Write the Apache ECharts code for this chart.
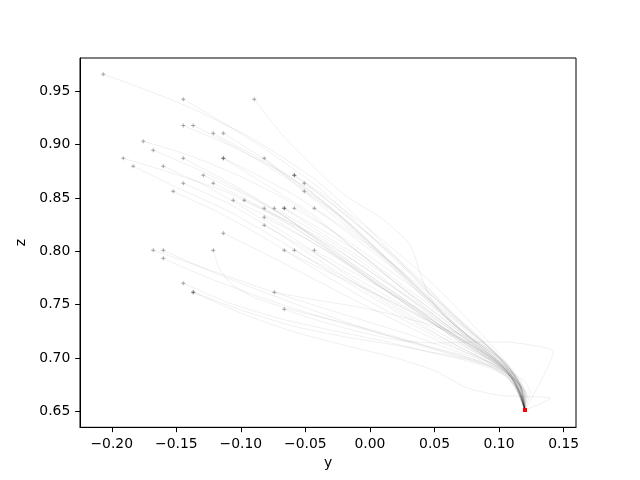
<!DOCTYPE html>
<html>
<head>
<meta charset="utf-8">
<script src="https://cdn.jsdelivr.net/npm/echarts@6/dist/echarts.min.js"></script>
<style>html,body{margin:0;padding:0;background:#fff}#c{width:640px;height:480px}</style>
</head>
<body>
<div id="c"></div>
<script>
// tick labels
var yTicks = [-0.20, -0.15, -0.10, -0.05, 0.00, 0.05, 0.10, 0.15];
var zTicks = [0.65, 0.70, 0.75, 0.80, 0.85, 0.90, 0.95];

// trajectories [y, z], start first, end (target) last
var t1 = [[-0.2066,0.966],[-0.175,0.952],[-0.14,0.935],[-0.09,0.905],[-0.04,0.865],[0.0,0.82],[0.035,0.775],[0.065,0.738],[0.09,0.712],[0.102,0.697],[0.11,0.683],[0.115,0.67],[0.12,0.651]];
var t2 = [[-0.1446,0.9425],[-0.12,0.925],[-0.08,0.895],[-0.04,0.86],[0.0,0.815],[0.03,0.78],[0.06,0.745],[0.085,0.718],[0.1,0.7],[0.109,0.686],[0.115,0.672],[0.12,0.651]];
var t3 = [[-0.0896,0.9425],[-0.067,0.908],[-0.041,0.876],[-0.02,0.853],[0.01,0.83],[0.031,0.806],[0.041,0.772],[0.05,0.75],[0.066,0.73],[0.085,0.712],[0.1,0.7],[0.11,0.688],[0.117,0.675],[0.12,0.651]];
var t4 = [[-0.1446,0.918],[-0.11,0.9],[-0.07,0.875],[-0.03,0.84],[0.01,0.795],[0.04,0.762],[0.065,0.732],[0.088,0.71],[0.102,0.694],[0.11,0.68],[0.116,0.667],[0.12,0.651]];
var t5 = [[-0.1369,0.918],[-0.1,0.895],[-0.06,0.865],[-0.02,0.83],[0.015,0.79],[0.045,0.755],[0.07,0.725],[0.09,0.706],[0.104,0.69],[0.112,0.677],[0.117,0.663],[0.12,0.651]];
var t6 = [[-0.1214,0.9106],[-0.09,0.89],[-0.05,0.86],[-0.015,0.825],[0.02,0.785],[0.05,0.75],[0.075,0.722],[0.095,0.703],[0.108,0.688],[0.116,0.676],[0.121,0.664],[0.12,0.651]];
var t7 = [[-0.1136,0.9106],[-0.08,0.885],[-0.045,0.855],[-0.01,0.82],[0.025,0.78],[0.055,0.745],[0.078,0.718],[0.097,0.7],[0.11,0.686],[0.12,0.678],[0.124,0.668],[0.12,0.651]];
var t8 = [[-0.1756,0.9031],[-0.14,0.89],[-0.1,0.87],[-0.06,0.845],[-0.02,0.81],[0.02,0.77],[0.05,0.74],[0.078,0.714],[0.098,0.697],[0.108,0.684],[0.114,0.671],[0.12,0.651]];
var t9 = [[-0.1679,0.8947],[-0.13,0.875],[-0.09,0.85],[-0.05,0.82],[-0.01,0.785],[0.03,0.752],[0.06,0.725],[0.085,0.705],[0.1,0.692],[0.11,0.681],[0.116,0.668],[0.12,0.651]];
var t10 = [[-0.1911,0.8872],[-0.15,0.872],[-0.11,0.855],[-0.07,0.83],[-0.03,0.8],[0.01,0.766],[0.045,0.736],[0.075,0.71],[0.095,0.696],[0.107,0.684],[0.113,0.673],[0.117,0.662],[0.12,0.651]];
var t11 = [[-0.1446,0.8872],[-0.11,0.865],[-0.075,0.84],[-0.04,0.81],[0.0,0.777],[0.035,0.748],[0.065,0.722],[0.09,0.703],[0.104,0.69],[0.112,0.678],[0.118,0.666],[0.12,0.651]];
var t12 = [[-0.1136,0.8872],[-0.085,0.87],[-0.055,0.85],[-0.02,0.82],[0.015,0.787],[0.045,0.753],[0.072,0.724],[0.093,0.706],[0.106,0.692],[0.115,0.679],[0.119,0.666],[0.12,0.651]];
var t13 = [[-0.1136,0.8872],[-0.08,0.862],[-0.045,0.835],[-0.01,0.8],[0.025,0.766],[0.055,0.738],[0.08,0.714],[0.098,0.698],[0.108,0.686],[0.113,0.674],[0.116,0.663],[0.12,0.651]];
var t14 = [[-0.0819,0.8872],[-0.06,0.865],[-0.035,0.84],[-0.005,0.81],[0.025,0.777],[0.05,0.748],[0.073,0.724],[0.093,0.708],[0.107,0.694],[0.116,0.68],[0.12,0.667],[0.12,0.651]];
var t15 = [[-0.1834,0.8797],[-0.15,0.86],[-0.11,0.838],[-0.07,0.81],[-0.03,0.78],[0.01,0.751],[0.045,0.726],[0.075,0.707],[0.095,0.694],[0.106,0.684],[0.112,0.673],[0.117,0.662],[0.12,0.651]];
var t16 = [[-0.1601,0.8797],[-0.125,0.86],[-0.09,0.835],[-0.05,0.805],[-0.01,0.771],[0.03,0.741],[0.065,0.716],[0.09,0.7],[0.104,0.689],[0.112,0.677],[0.117,0.665],[0.12,0.651]];
var t17 = [[-0.0586,0.8712],[-0.035,0.85],[-0.01,0.825],[0.015,0.8],[0.04,0.772],[0.06,0.746],[0.08,0.722],[0.097,0.705],[0.108,0.69],[0.115,0.677],[0.119,0.665],[0.12,0.651]];
var t18 = [[-0.0586,0.8712],[-0.03,0.848],[0.0,0.82],[0.03,0.79],[0.055,0.762],[0.075,0.737],[0.092,0.715],[0.104,0.698],[0.112,0.684],[0.118,0.67],[0.12,0.651]];
var t19 = [[-0.1291,0.8712],[-0.1,0.855],[-0.065,0.832],[-0.03,0.8],[0.005,0.769],[0.04,0.74],[0.07,0.715],[0.092,0.699],[0.105,0.688],[0.113,0.676],[0.117,0.664],[0.12,0.651]];
var t20 = [[-0.0509,0.8637],[-0.03,0.845],[-0.005,0.82],[0.02,0.793],[0.045,0.765],[0.068,0.738],[0.088,0.716],[0.102,0.699],[0.111,0.685],[0.117,0.671],[0.12,0.651]];
var t21 = [[-0.1446,0.8637],[-0.11,0.845],[-0.075,0.82],[-0.04,0.792],[0.0,0.761],[0.035,0.735],[0.065,0.713],[0.09,0.698],[0.104,0.688],[0.112,0.677],[0.116,0.665],[0.12,0.651]];
var t22 = [[-0.1214,0.8637],[-0.09,0.845],[-0.055,0.82],[-0.02,0.79],[0.015,0.761],[0.05,0.733],[0.077,0.711],[0.096,0.697],[0.107,0.686],[0.114,0.674],[0.118,0.662],[0.12,0.651]];
var t23 = [[-0.0509,0.8562],[-0.03,0.838],[-0.005,0.812],[0.02,0.786],[0.045,0.758],[0.07,0.732],[0.09,0.712],[0.104,0.696],[0.113,0.682],[0.118,0.668],[0.12,0.651]];
var t24 = [[-0.1524,0.8562],[-0.12,0.838],[-0.085,0.815],[-0.045,0.785],[-0.005,0.756],[0.035,0.73],[0.068,0.709],[0.092,0.696],[0.106,0.686],[0.115,0.676],[0.12,0.665],[0.12,0.651]];
var t25 = [[-0.1059,0.8478],[-0.075,0.83],[-0.04,0.805],[-0.005,0.777],[0.03,0.75],[0.06,0.726],[0.085,0.706],[0.1,0.693],[0.11,0.681],[0.116,0.668],[0.12,0.651]];
var t26 = [[-0.0974,0.8478],[-0.07,0.832],[-0.035,0.81],[0.0,0.781],[0.035,0.752],[0.065,0.726],[0.088,0.706],[0.103,0.692],[0.113,0.679],[0.119,0.667],[0.12,0.651]];
var t27 = [[-0.0819,0.8403],[-0.055,0.822],[-0.02,0.797],[0.015,0.769],[0.045,0.742],[0.072,0.718],[0.092,0.701],[0.105,0.689],[0.113,0.677],[0.117,0.665],[0.12,0.651]];
var t28 = [[-0.0741,0.8403],[-0.045,0.82],[-0.01,0.793],[0.02,0.766],[0.05,0.74],[0.075,0.717],[0.094,0.7],[0.107,0.687],[0.116,0.675],[0.122,0.665],[0.12,0.651]];
var t29 = [[-0.0664,0.8403],[-0.04,0.822],[-0.01,0.8],[0.02,0.773],[0.048,0.748],[0.072,0.724],[0.092,0.704],[0.105,0.69],[0.113,0.677],[0.117,0.664],[0.12,0.651]];
var t30 = [[-0.0664,0.8403],[-0.035,0.815],[0.0,0.788],[0.03,0.761],[0.058,0.736],[0.08,0.714],[0.098,0.698],[0.109,0.686],[0.116,0.673],[0.12,0.651]];
var t31 = [[-0.0586,0.8403],[-0.03,0.82],[0.0,0.795],[0.03,0.769],[0.058,0.743],[0.082,0.718],[0.099,0.7],[0.11,0.686],[0.117,0.673],[0.12,0.651]];
var t32 = [[-0.0431,0.8403],[-0.02,0.822],[0.005,0.8],[0.03,0.776],[0.055,0.751],[0.078,0.726],[0.096,0.706],[0.108,0.691],[0.116,0.678],[0.121,0.666],[0.12,0.651]];
var t33 = [[-0.0819,0.8319],[-0.05,0.812],[-0.015,0.787],[0.02,0.759],[0.05,0.734],[0.077,0.713],[0.096,0.698],[0.108,0.686],[0.115,0.674],[0.12,0.651]];
var t34 = [[-0.0819,0.8244],[-0.05,0.803],[-0.015,0.778],[0.02,0.753],[0.052,0.73],[0.078,0.71],[0.097,0.696],[0.109,0.685],[0.116,0.672],[0.12,0.651]];
var t35 = [[-0.1136,0.8169],[-0.08,0.797],[-0.045,0.775],[-0.01,0.753],[0.025,0.732],[0.058,0.713],[0.085,0.7],[0.102,0.69],[0.112,0.679],[0.117,0.666],[0.12,0.651]];
var t36 = [[-0.1679,0.8009],[-0.13,0.785],[-0.09,0.768],[-0.05,0.752],[-0.01,0.737],[0.03,0.722],[0.065,0.707],[0.09,0.696],[0.104,0.686],[0.112,0.675],[0.118,0.663],[0.12,0.651]];
var t37 = [[-0.1601,0.8009],[-0.125,0.782],[-0.085,0.763],[-0.045,0.745],[-0.005,0.728],[0.035,0.713],[0.07,0.701],[0.093,0.692],[0.106,0.682],[0.113,0.671],[0.12,0.651]];
var t38 = [[-0.1214,0.8009],[-0.117,0.785],[-0.108,0.77],[-0.09,0.757],[-0.06,0.745],[-0.02,0.733],[0.02,0.72],[0.055,0.707],[0.085,0.697],[0.103,0.688],[0.114,0.678],[0.12,0.667],[0.12,0.651]];
var t39 = [[-0.0664,0.8009],[-0.04,0.785],[-0.01,0.768],[0.02,0.751],[0.05,0.732],[0.077,0.714],[0.097,0.699],[0.109,0.687],[0.116,0.674],[0.12,0.651]];
var t40 = [[-0.0586,0.8009],[-0.03,0.782],[0.0,0.763],[0.03,0.744],[0.06,0.724],[0.085,0.707],[0.101,0.694],[0.111,0.682],[0.117,0.669],[0.12,0.651]];
var t41 = [[-0.0431,0.8009],[-0.02,0.785],[0.01,0.765],[0.04,0.744],[0.068,0.723],[0.09,0.706],[0.104,0.693],[0.113,0.68],[0.118,0.667],[0.12,0.651]];
var t42 = [[-0.1601,0.7934],[-0.125,0.775],[-0.085,0.757],[-0.045,0.741],[-0.005,0.727],[0.035,0.714],[0.07,0.703],[0.094,0.692],[0.108,0.681],[0.115,0.669],[0.12,0.651]];
var t43 = [[-0.1446,0.77],[-0.11,0.752],[-0.07,0.737],[-0.03,0.726],[0.01,0.716],[0.04,0.707],[0.07,0.699],[0.092,0.691],[0.105,0.683],[0.112,0.674],[0.117,0.663],[0.12,0.651]];
var t44 = [[-0.1369,0.7616],[-0.1,0.745],[-0.06,0.73],[-0.02,0.72],[0.02,0.712],[0.05,0.705],[0.078,0.698],[0.097,0.69],[0.109,0.682],[0.114,0.671],[0.12,0.651]];
var t45 = [[-0.1369,0.7616],[-0.1,0.742],[-0.06,0.725],[-0.02,0.712],[0.02,0.7],[0.05,0.688],[0.075,0.672],[0.1,0.665],[0.14,0.662],[0.12,0.651]];
var t46 = [[-0.0741,0.7616],[-0.045,0.755],[-0.01,0.748],[0.02,0.74],[0.05,0.73],[0.075,0.72],[0.095,0.705],[0.108,0.69],[0.116,0.676],[0.12,0.651]];
var t47 = [[-0.0664,0.7456],[-0.04,0.735],[-0.01,0.725],[0.02,0.717],[0.05,0.714],[0.08,0.715],[0.105,0.715],[0.125,0.712],[0.142,0.706],[0.12,0.651]];

var trajectories = [t1,t2,t3,t4,t5,t6,t7,t8,t9,t10,t11,t12,t13,t14,t15,t16,t17,t18,t19,t20,t21,t22,t23,t24,t25,t26,t27,t28,t29,t30,t31,t32,t33,t34,t35,t36,t37,t38,t39,t40,t41,t42,t43,t44,t45,t46,t47];

var chart = echarts.init(document.getElementById('c'), null, {renderer: 'canvas'});
var font = 'DejaVu Sans';
function fmt(v) { var s = Math.abs(v).toFixed(2); return (v < -1e-9 ? '\u2212' : '') + s; }

var series = trajectories.map(function (t) {
  return {
    type: 'line', data: t, symbol: 'none', smooth: 0.2, silent: true,
    lineStyle: {color: '#000', width: 0.7, opacity: 0.09}, z: 2
  };
});
series.push({
  type: 'scatter', silent: true, z: 3,
  data: trajectories.map(function (t) { return t[0]; }),
  symbol: 'path://M-0.7,-3H0.7V-0.7H3V0.7H0.7V3H-0.7V0.7H-3V-0.7H-0.7Z',
  symbolSize: 4,
  itemStyle: {color: 'rgba(0,0,0,0.45)'}
});
series.push({
  type: 'scatter', silent: true, z: 4,
  data: trajectories.map(function (t) { return t[t.length - 1]; }),
  symbol: 'rect', symbolSize: 3.5,
  itemStyle: {color: 'rgba(255,0,0,0.6)'}
});

chart.setOption({
  animation: false,
  backgroundColor: '#fff',
  grid: {left: 80, right: 64, top: 58, bottom: 52.7, show: true, borderColor: '#000', borderWidth: 1, backgroundColor: 'transparent'},
  xAxis: {
    type: 'value', min: -0.2246, max: 0.1596,
    name: 'y', nameLocation: 'middle', nameGap: 27,
    nameTextStyle: {fontFamily: font, fontSize: 13.9, color: '#000'},
    axisLine: {show: true, onZero: false, lineStyle: {color: '#000', width: 1}},
    axisTick: {show: true, length: 4.86, customValues: yTicks, lineStyle: {color: '#000', width: 1}},
    axisLabel: {customValues: yTicks, margin: 9.7, formatter: fmt, fontFamily: font, fontSize: 13.9, color: '#000'},
    splitLine: {show: false}
  },
  yAxis: {
    type: 'value', min: 0.635, max: 0.9812,
    name: 'z', nameLocation: 'middle', nameGap: 46,
    nameTextStyle: {fontFamily: font, fontSize: 13.9, color: '#000'},
    axisLine: {show: true, onZero: false, lineStyle: {color: '#000', width: 1}},
    axisTick: {show: true, length: 4.86, customValues: zTicks, lineStyle: {color: '#000', width: 1}},
    axisLabel: {customValues: zTicks, margin: 9.7, formatter: fmt, fontFamily: font, fontSize: 13.9, color: '#000'},
    splitLine: {show: false}
  },
  series: series
});
</script>
</body>
</html>
